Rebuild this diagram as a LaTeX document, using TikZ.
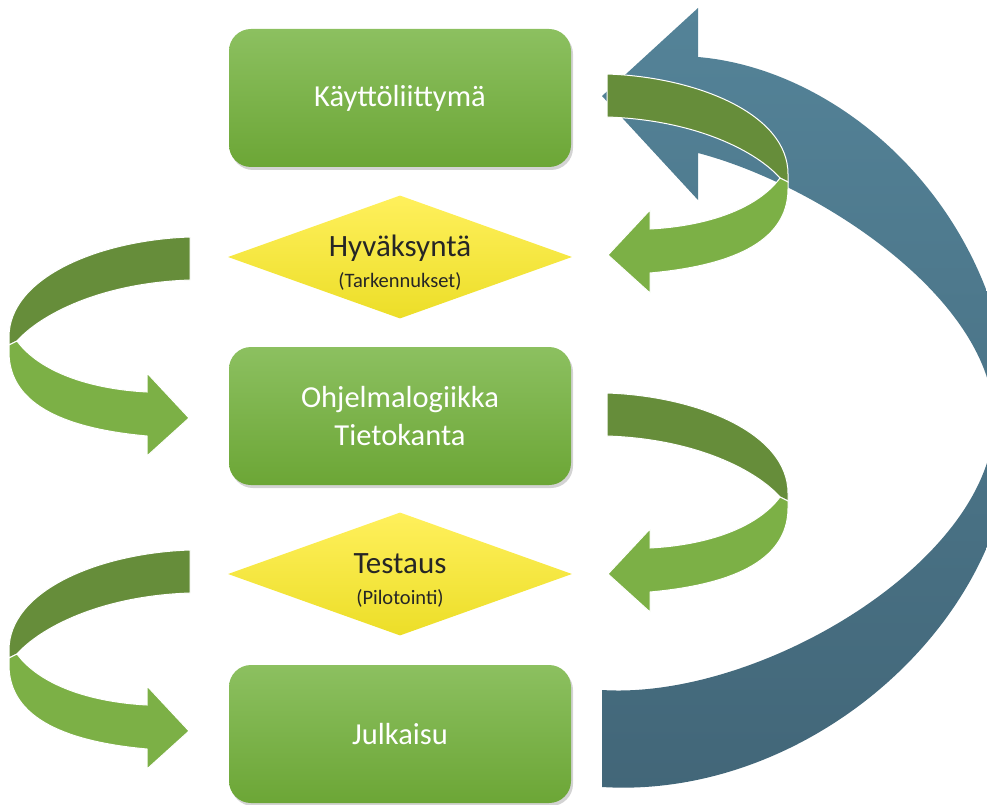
\documentclass[tikz,border=0pt]{standalone}
\usepackage{fontspec}
\setmainfont{Carlito}
\usetikzlibrary{shapes.geometric,shadows}

\definecolor{boxtop}{RGB}{140,192,96}
\definecolor{boxbot}{RGB}{108,166,54}
\definecolor{gatetop}{RGB}{255,240,92}
\definecolor{gatebot}{RGB}{236,222,40}
\definecolor{gatetext}{RGB}{38,38,38}
\definecolor{loopback}{RGB}{102,141,58}
\definecolor{loopfront}{RGB}{124,176,70}
\definecolor{cycletop}{RGB}{84,131,152}
\definecolor{cyclebot}{RGB}{66,102,120}

\newcommand{\gatehead}[1]{\rule{0pt}{33pt}#1}
\newcommand{\gatenote}[1]{{\fontsize{20.5}{31}\selectfont #1}}

\begin{document}
\begin{tikzpicture}[
  x=1pt,y=-1pt,
  phase/.style={rectangle,rounded corners=22pt,minimum width=342pt,
                minimum height=138pt,top color=boxtop,bottom color=boxbot,
                text=white,align=center,font=\fontsize{30.5}{38}\selectfont,
                drop shadow={shadow xshift=2pt,shadow yshift=-3pt,opacity=.35}},
  gate/.style={diamond,aspect=2.8,inner sep=0pt,minimum width=344pt,
               minimum height=123pt,top color=gatetop,bottom color=gatebot,
               text=gatetext,align=center,font=\fontsize{31}{31}\selectfont},
  backband/.style={fill=loopback,draw=white,line width=1pt},
  frontband/.style={fill=loopfront,draw=white,line width=1pt},
  turnarrow/.pic={
    \path[backband] (0,0) .. controls (90,3) and (181,40) .. (181,100)
      -- (181,108) -- (173,104)
      .. controls (150,78) and (90,46) .. (0,43) -- cycle;
    \path[frontband] (173,104) .. controls (150,135) and (100,152) .. (43,155)
      -- (43,136) -- (1,181) -- (43,219) -- (43,199)
      .. controls (120,192) and (181,170) .. (181,115) -- (181,108) -- cycle;
  }
]
\useasboundingbox (0,0) rectangle (987,805);
\clip (0,0) rectangle (987,805);

% big return arrow
\shade[top color=cycletop,bottom color=cyclebot]
  (602,787) -- (602,690)
  .. controls (760,700) and (994,560) .. (994,420)
  .. controls (994,300) and (820,185) .. (698,153)
  -- (698,200) -- (602,96) -- (698,8) -- (698,57)
  .. controls (850,70) and (1012,220) .. (1012,430)
  .. controls (1012,620) and (810,800) .. (602,787)
  -- cycle;

% turning arrows
\pic at (607,74) {turnarrow};
\pic at (607,393) {turnarrow};
\pic[xscale=-1] at (190,237) {turnarrow};
\pic[xscale=-1] at (190,550) {turnarrow};

\node[phase] (ui) at (400,98) {Käyttöliittymä};
\node[gate] (accept) at (400,257)
  {\gatehead{Hyväksyntä}\\\gatenote{(Tarkennukset)}};
\node[phase] (logic) at (400,416) {Ohjelmalogiikka\\Tietokanta};
\node[gate] (test) at (400,574)
  {\gatehead{Testaus}\\\gatenote{(Pilotointi)}};
\node[phase] (release) at (400,734) {Julkaisu};
\end{tikzpicture}
\end{document}
